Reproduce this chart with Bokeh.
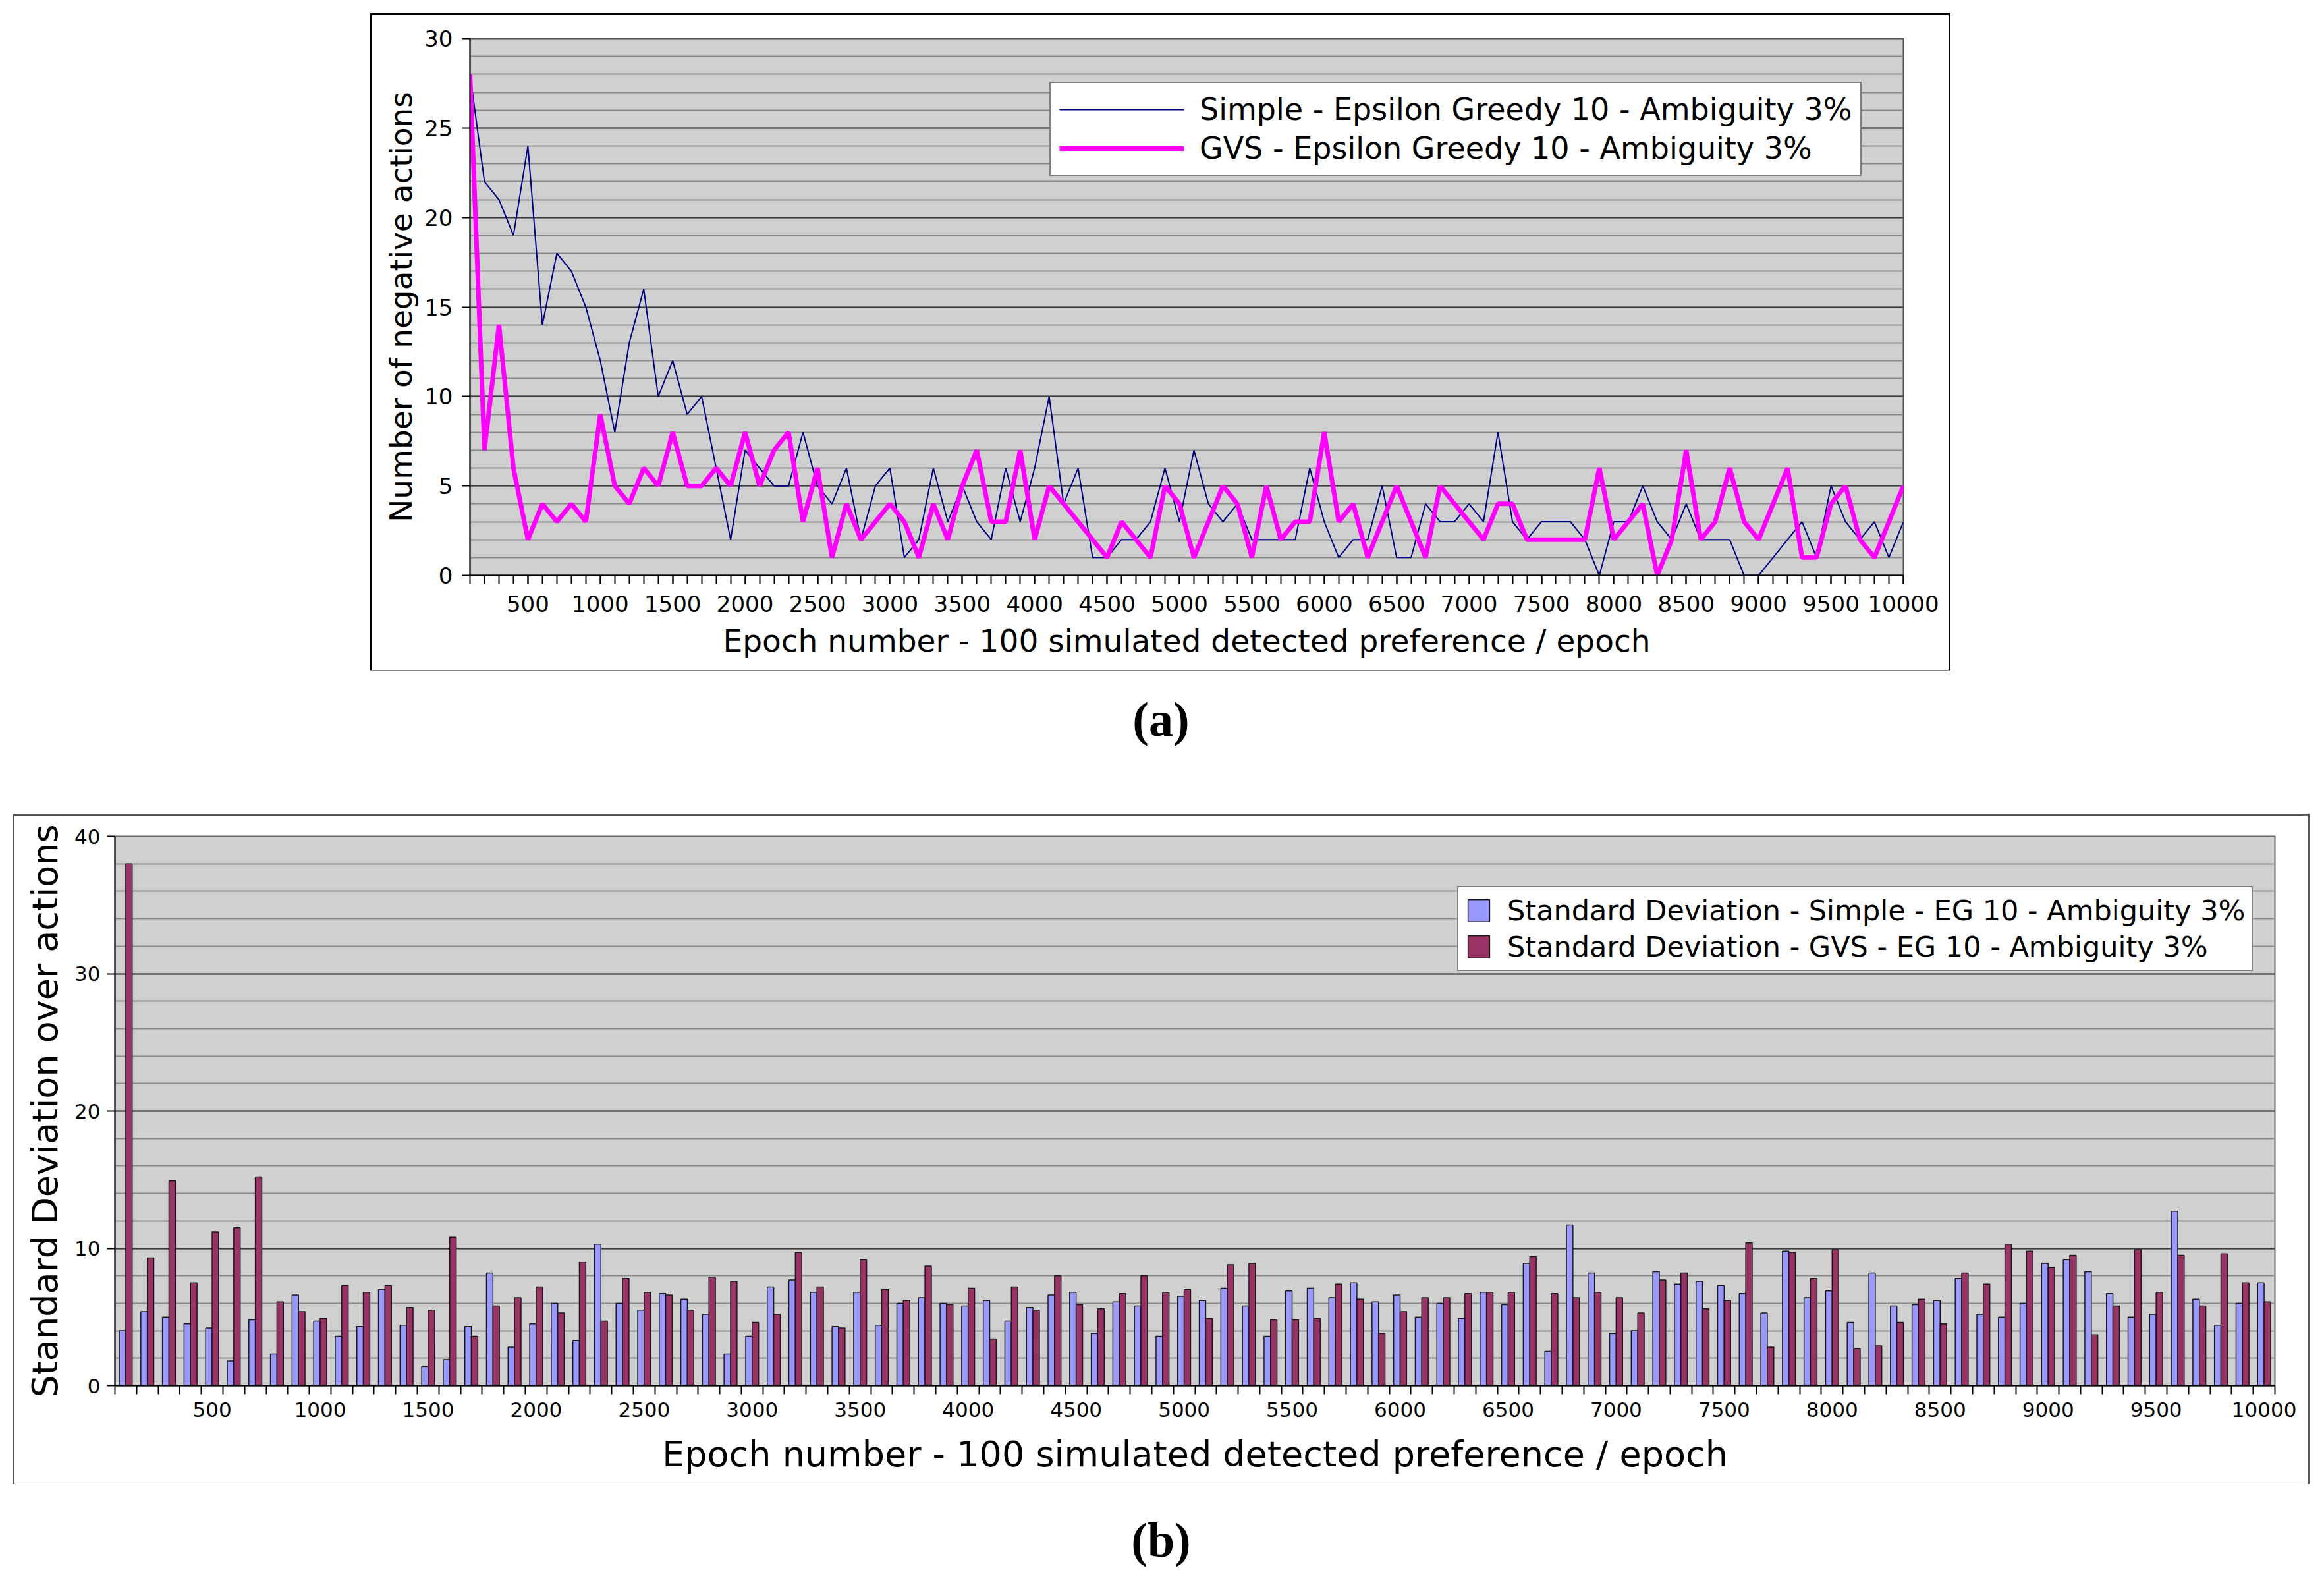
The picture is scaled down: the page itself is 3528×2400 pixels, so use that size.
from bokeh.plotting import figure
from bokeh.models import SingleIntervalTicker, FixedTicker, BasicTickFormatter, Spacer
from bokeh.layouts import column, row
from bokeh.transform import dodge
from bokeh.core.properties import value
from bokeh.embed import file_html
from bokeh.resources import INLINE

# ---------------- data ----------------
epochs = list(range(100, 10001, 100))

simple_neg = [28, 22, 21, 19, 24, 14, 18, 17, 15, 12,
              8, 13, 16, 10, 12, 9, 10, 6, 2, 7,
              6, 5, 5, 8, 5, 4, 6, 2, 5, 6,
              1, 2, 6, 3, 5, 3, 2, 6, 3, 6,
              10, 4, 6, 1, 1, 2, 2, 3, 6, 3,
              7, 4, 3, 4, 2, 2, 2, 2, 6, 3,
              1, 2, 2, 5, 1, 1, 4, 3, 3, 4,
              3, 8, 3, 2, 3, 3, 3, 2, 0, 3,
              3, 5, 3, 2, 4, 2, 2, 2, 0, 0,
              1, 2, 3, 1, 5, 3, 2, 3, 1, 3]

gvs_neg = [28, 7, 14, 6, 2, 4, 3, 4, 3, 9,
           5, 4, 6, 5, 8, 5, 5, 6, 5, 8,
           5, 7, 8, 3, 6, 1, 4, 2, 3, 4,
           3, 1, 4, 2, 5, 7, 3, 3, 7, 2,
           5, 4, 3, 2, 1, 3, 2, 1, 5, 4,
           1, 3, 5, 4, 1, 5, 2, 3, 3, 8,
           3, 4, 1, 3, 5, 3, 1, 5, 4, 3,
           2, 4, 4, 2, 2, 2, 2, 2, 6, 2,
           3, 4, 0, 2, 7, 2, 3, 6, 3, 2,
           4, 6, 1, 1, 4, 5, 2, 1, 3, 5]

simple_std = [4.0, 5.4, 5.0, 4.5, 4.2, 1.8, 4.8, 2.3, 6.6, 4.7,
              3.6, 4.3, 7.0, 4.4, 1.4, 1.9, 4.3, 8.2, 2.8, 4.5,
              6.0, 3.3, 10.3, 6.0, 5.5, 6.7, 6.3, 5.2, 2.3, 3.6,
              7.2, 7.7, 6.8, 4.3, 6.8, 4.4, 6.0, 6.4, 6.0, 5.8,
              6.2, 4.7, 5.7, 6.6, 6.8, 3.8, 6.1, 5.8, 3.6, 6.5,
              6.2, 7.1, 5.8, 3.6, 6.9, 7.1, 6.4, 7.5, 6.1, 6.6,
              5.0, 6.0, 4.9, 6.8, 5.9, 8.9, 2.5, 11.7, 8.2, 3.8,
              4.0, 8.3, 7.4, 7.6, 7.3, 6.7, 5.3, 9.8, 6.4, 6.9,
              4.6, 8.2, 5.8, 5.9, 6.2, 7.8, 5.2, 5.0, 6.0, 8.9,
              9.2, 8.3, 6.7, 5.0, 5.2, 12.7, 6.3, 4.4, 6.0, 7.5]

gvs_std = [38.0, 9.3, 14.9, 7.5, 11.2, 11.5, 15.2, 6.1, 5.4, 4.9,
           7.3, 6.8, 7.3, 5.7, 5.5, 10.8, 3.6, 5.8, 6.4, 7.2,
           5.3, 9.0, 4.7, 7.8, 6.8, 6.6, 5.5, 7.9, 7.6, 4.6,
           5.2, 9.7, 7.2, 4.2, 9.2, 7.0, 6.2, 8.7, 5.9, 7.1,
           3.4, 7.2, 5.5, 8.0, 5.9, 5.6, 6.7, 8.0, 6.8, 7.0,
           4.9, 8.8, 8.9, 4.8, 4.8, 4.9, 7.4, 6.3, 3.8, 5.4,
           6.4, 6.4, 6.7, 6.8, 6.8, 9.4, 6.7, 6.4, 6.8, 6.4,
           5.3, 7.7, 8.2, 5.6, 6.2, 10.4, 2.8, 9.7, 7.8, 9.9,
           2.7, 2.9, 4.6, 6.3, 4.5, 8.2, 7.4, 10.3, 9.8, 8.6,
           9.5, 3.7, 5.8, 9.9, 6.8, 9.5, 5.8, 9.6, 7.5, 6.1]

label_ticks = list(range(500, 10001, 500))
boundary_ticks = [e - 50 for e in epochs] + [epochs[-1] + 50]

FONT = "DejaVu Sans"


def style_axes(p, tick_font, title_font):
    for ax in p.axis:
        ax.axis_line_color = "black"
        ax.axis_line_width = 2
        ax.major_tick_line_color = "black"
        ax.major_tick_line_width = 2
        ax.minor_tick_line_color = "black"
        ax.minor_tick_line_width = 2
        ax.major_tick_in = 0
        ax.minor_tick_in = 0
        ax.major_label_text_font = FONT
        ax.major_label_text_font_size = tick_font
        ax.major_label_text_color = "black"
        ax.axis_label_text_font = FONT
        ax.axis_label_text_font_size = title_font
        ax.axis_label_text_font_style = "normal"
        ax.axis_label_text_color = "black"


# ---------------- (a) line chart ----------------
p1 = figure(width=2393, height=994, x_range=(100, 10000), y_range=(0, 30),
            output_backend="svg", toolbar_location=None,
            min_border_left=148, min_border_right=69,
            min_border_top=35, min_border_bottom=144)
p1.background_fill_color = "#d0d0d0"
p1.border_fill_color = "white"
p1.outline_line_color = "#555555"
p1.outline_line_width = 2
p1.styles = {"outline": "3px solid black"}

p1.line(epochs, simple_neg, line_color="#000080", line_width=2,
        legend_label="Simple - Epsilon Greedy 10 - Ambiguity 3%")
p1.line(epochs, gvs_neg, line_color="#ff00ff", line_width=7,
        legend_label="GVS - Epsilon Greedy 10 - Ambiguity 3%")

p1.xaxis.ticker = SingleIntervalTicker(interval=500, num_minor_ticks=5)
p1.xaxis.formatter = BasicTickFormatter(use_scientific=False)
p1.yaxis.ticker = SingleIntervalTicker(interval=5, num_minor_ticks=5)
p1.xaxis.axis_label = "Epoch number - 100 simulated detected preference / epoch"
p1.yaxis.axis_label = "Number of negative actions"
style_axes(p1, "34px", "47px")
p1.xaxis.major_tick_out = 13
p1.xaxis.minor_tick_out = 13
p1.xaxis.major_label_standoff = 17
p1.xaxis.axis_label_standoff = 13
p1.yaxis.major_tick_out = 12
p1.yaxis.minor_tick_out = 0
p1.yaxis.major_label_standoff = 14
p1.yaxis.axis_label_standoff = 5

p1.xgrid.visible = False
p1.ygrid.grid_line_color = "#3c3c3c"
p1.ygrid.grid_line_width = 2
p1.ygrid.minor_grid_line_color = "#8a8a8a"
p1.ygrid.minor_grid_line_width = 2

lg1 = p1.legend[0]
lg1.location = (880, 606)
lg1.border_line_color = "black"
lg1.border_line_width = 2
lg1.background_fill_color = "white"
lg1.background_fill_alpha = 1
lg1.label_text_font = FONT
lg1.label_text_font_size = "46px"
lg1.label_text_color = "black"
lg1.glyph_width = 189
lg1.glyph_height = 50
lg1.label_height = 50
lg1.label_standoff = 24
lg1.padding = 13
lg1.spacing = 5
lg1.margin = 0

# ---------------- (b) bar chart ----------------
p2 = figure(width=3481, height=1014, x_range=(50, 10050), y_range=(0, 40),
            output_backend="svg", toolbar_location=None,
            min_border_left=152, min_border_right=50,
            min_border_top=31, min_border_bottom=149)
p2.background_fill_color = "#d0d0d0"
p2.border_fill_color = "white"
p2.outline_line_color = "#666666"
p2.outline_line_width = 2
p2.styles = {"outline": "3px solid #555555"}

src = dict(epoch=epochs, simple=simple_std, gvs=gvs_std)
p2.vbar(x=dodge("epoch", -15), top="simple", width=30, source=src,
        fill_color="#9999ff", line_color="#1a1a1a", line_width=1.5,
        legend_label="Standard Deviation - Simple - EG 10 - Ambiguity 3%")
p2.vbar(x=dodge("epoch", 15), top="gvs", width=30, source=src,
        fill_color="#993366", line_color="#1a1a1a", line_width=1.5,
        legend_label="Standard Deviation - GVS - EG 10 - Ambiguity 3%")

p2.xaxis.ticker = FixedTicker(ticks=label_ticks, minor_ticks=boundary_ticks)
p2.xaxis.formatter = BasicTickFormatter(use_scientific=False)
p2.yaxis.ticker = SingleIntervalTicker(interval=10, num_minor_ticks=5)
p2.xaxis.axis_label = "Epoch number - 100 simulated detected preference / epoch"
p2.yaxis.axis_label = "Standard Deviation over actions"
style_axes(p2, "31px", "54px")
p2.xaxis.major_tick_out = 0
p2.xaxis.minor_tick_out = 13
p2.xaxis.major_label_standoff = 12
p2.xaxis.axis_label_standoff = 22
p2.yaxis.major_tick_out = 12
p2.yaxis.minor_tick_out = 0
p2.yaxis.major_label_standoff = 10
p2.yaxis.axis_label_standoff = 10

p2.xgrid.visible = False
p2.ygrid.grid_line_color = "#3c3c3c"
p2.ygrid.grid_line_width = 2
p2.ygrid.minor_grid_line_color = "#8a8a8a"
p2.ygrid.minor_grid_line_width = 2

lg2 = p2.legend[0]
lg2.location = (2038, 629)
lg2.border_line_color = "black"
lg2.border_line_width = 2
lg2.background_fill_color = "white"
lg2.background_fill_alpha = 1
lg2.label_text_font = FONT
lg2.label_text_font_size = "43px"
lg2.label_text_color = "black"
lg2.glyph_width = 41
lg2.glyph_height = 42
lg2.label_height = 46
lg2.label_standoff = 23
lg2.padding = 10
lg2.spacing = 5
lg2.margin = 0


# ---------------- captions ----------------
def caption(h, yc, txt):
    c = figure(width=3512, height=h, x_range=(0, 3512), y_range=(0, h),
               x_axis_type=None, y_axis_type=None,
               output_backend="svg", toolbar_location=None, min_border=0)
    c.grid.visible = False
    c.outline_line_color = None
    c.background_fill_color = "white"
    c.border_fill_color = "white"
    c.text(x=[1762], y=[yc], text=[txt], text_font=value("Liberation Serif"),
           text_font_style="bold", text_font_size="74px",
           text_align="center", text_baseline="middle", text_color="black")
    return c


cap_a = caption(221, 147, "(a)")
cap_b = caption(140, 55, "(b)")

layout = column(
    Spacer(width=10, height=23),
    row(Spacer(width=565, height=10), p1),
    cap_a,
    row(Spacer(width=22, height=10), p2),
    cap_b,
)

open("out.html", "w").write(file_html(layout, INLINE))
